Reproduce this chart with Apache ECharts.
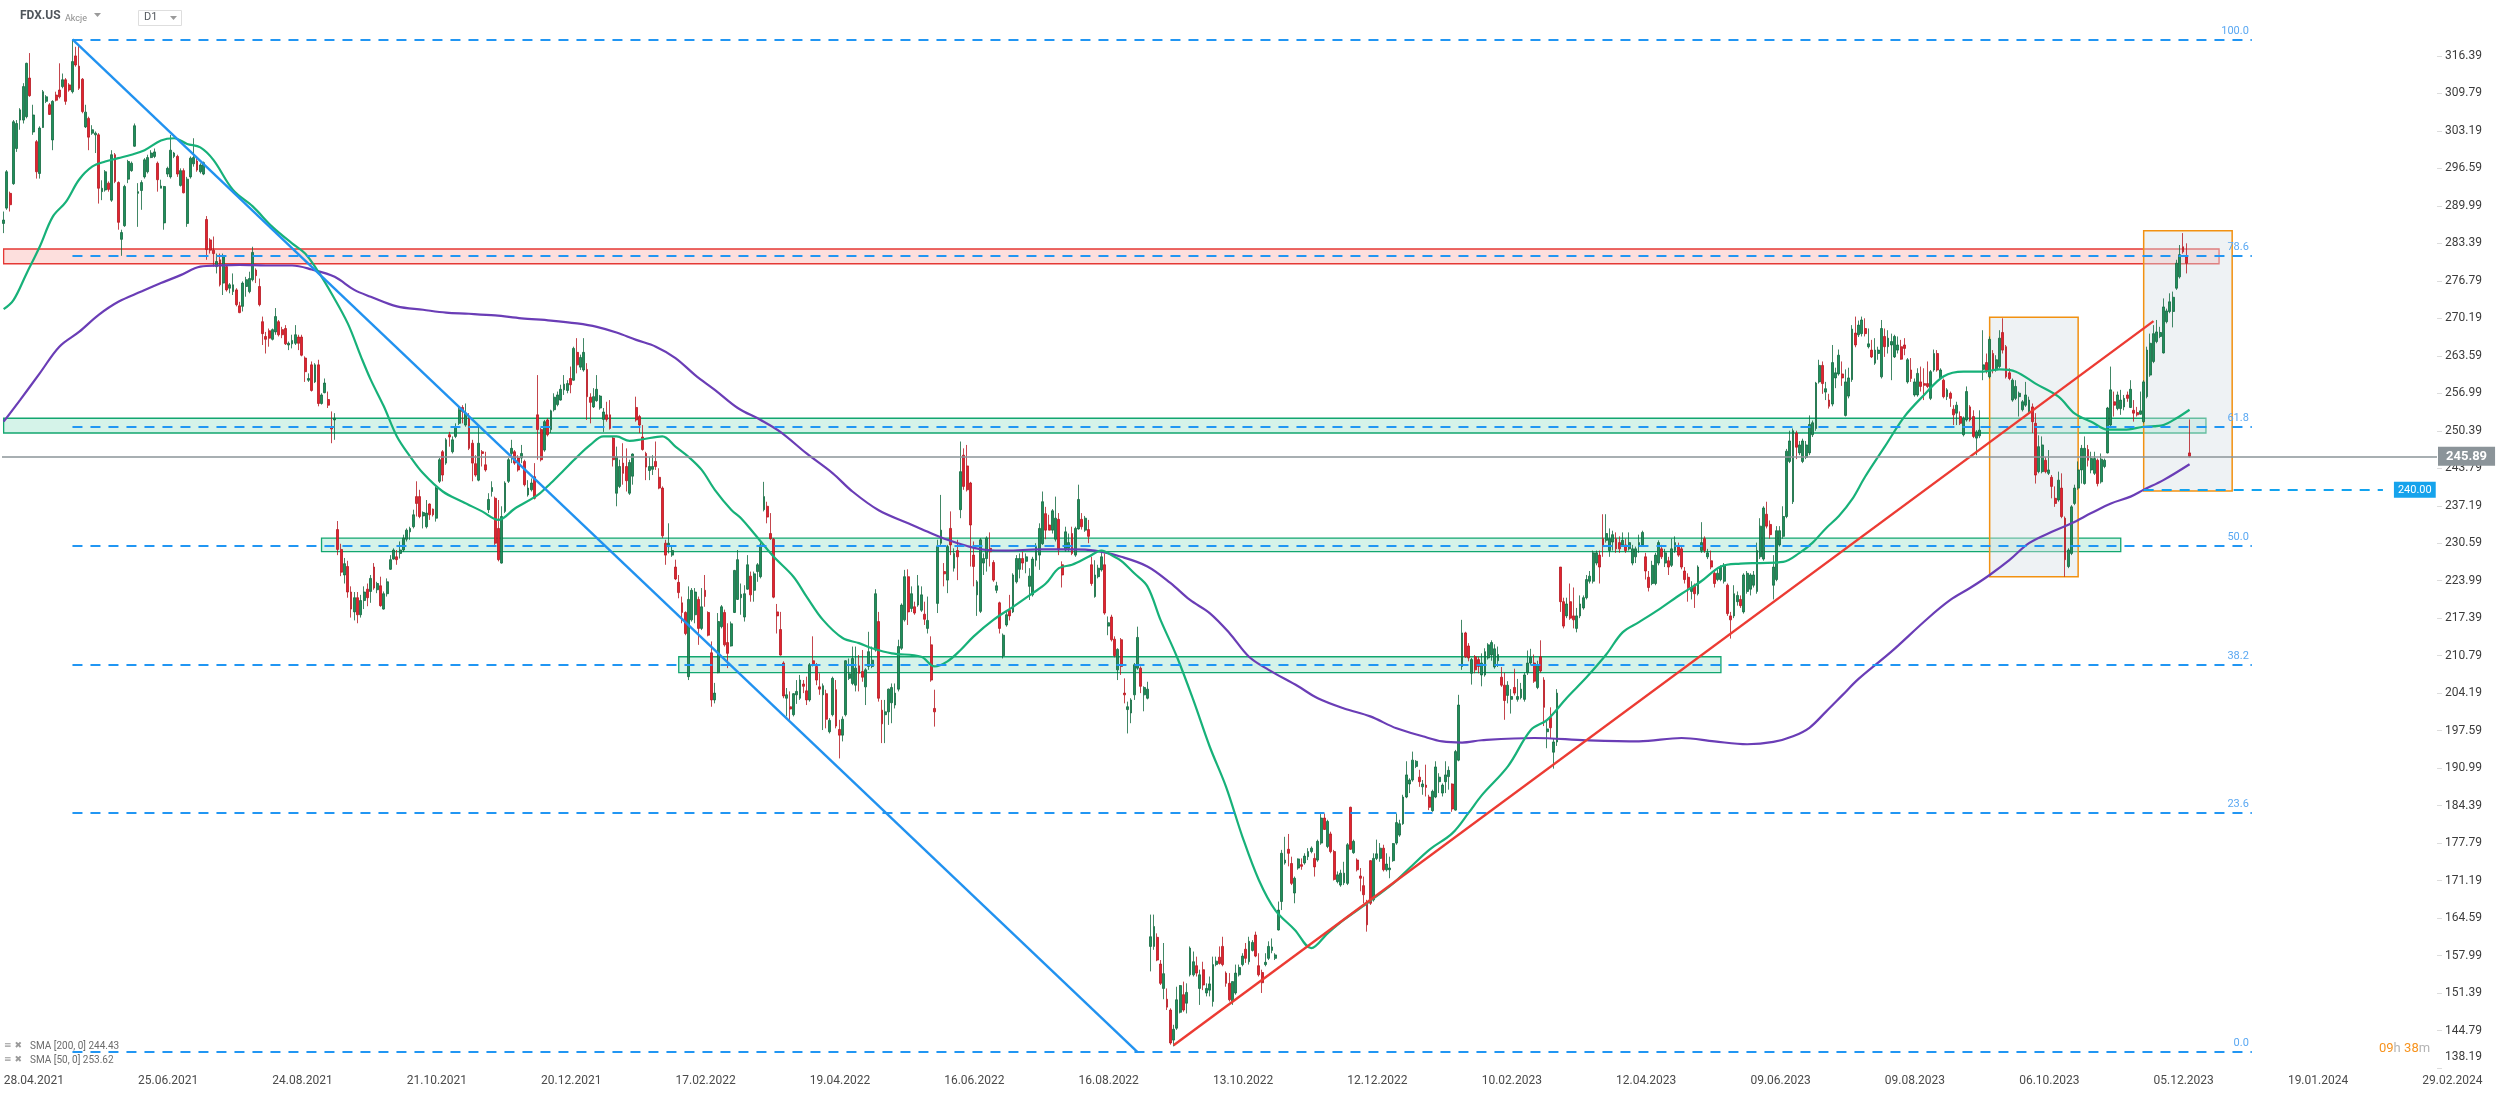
<!DOCTYPE html>
<html>
<head>
<meta charset="utf-8">
<title>FDX.US D1</title>
<script src="https://cdn.jsdelivr.net/npm/echarts@6/dist/echarts.min.js"></script>
<style>
  html, body { margin: 0; padding: 0; background: #fff; }
  #main { width: 2506px; height: 1093px; }
</style>
</head>
<body>
<div id="main"></div>
<script>
// x axis labels, one every 41 bars
var tickLabels = ['28.04.2021', '25.06.2021', '24.08.2021', '21.10.2021', '20.12.2021', '17.02.2022',
  '19.04.2022', '16.06.2022', '16.08.2022', '13.10.2022', '12.12.2022', '10.02.2023', '12.04.2023',
  '09.06.2023', '09.08.2023', '06.10.2023', '05.12.2023', '19.01.2024', '29.02.2024'];

// price scale labels on the right
var yTicks = [138.19, 144.79, 151.39, 157.99, 164.59, 171.19, 177.79, 184.39, 190.99, 197.59, 204.19,
  210.79, 217.39, 223.99, 230.59, 237.19, 243.79, 250.39, 256.99, 263.59, 270.19, 276.79, 283.39,
  289.99, 296.59, 303.19, 309.79, 316.39];

// daily bars: [open, close, low, high]
var ohlc = [
  [286.9,287.5,285.2,289.0],[289.6,296.0,289.3,296.3],[292.2,290.2,289.0,292.5],[293.9,304.8,293.7,305.1],[300.1,304.5,299.5,305.1],
  [305.1,306.9,303.4,307.2],[305.1,311.0,304.5,311.6],[305.7,315.1,305.4,315.2],[312.5,309.4,309.2,316.9],[303.0,306.0,302.5,307.8],
  [301.3,296.0,294.8,301.6],[295.7,303.7,294.8,304.0],[303.8,310.1,303.7,310.4],[308.4,309.2,308.1,309.5],[307.8,306.1,306.0,308.1],
  [301.6,308.4,299.8,308.6],[309.5,308.6,308.4,310.1],[310.4,309.2,308.9,315.1],[311.0,312.2,310.7,313.3],[312.2,308.4,307.8,312.5],
  [311.3,310.4,310.1,311.6],[310.1,315.4,309.8,319.3],[316.4,314.8,314.5,318.0],[314.6,310.7,310.4,318.3],[312.3,306.6,306.3,312.5],
  [303.9,306.5,303.7,307.8],[305.4,302.1,299.8,305.7],[302.8,303.4,302.5,304.2],[302.5,302.8,299.3,303.1],[302.5,293.1,290.4,302.8],
  [292.5,293.1,291.0,294.5],[292.8,296.0,292.5,296.3],[294.0,292.9,292.5,294.3],[291.0,299.0,290.7,299.8],[299.0,294.3,294.0,299.3],
  [294.1,287.1,285.8,294.3],[284.1,285.3,281.2,285.8],[286.5,293.4,286.3,293.7],[294.7,297.8,294.0,298.1],[296.2,297.5,296.0,297.8],
  [300.5,304.1,300.4,304.5],[292.2,292.5,286.3,294.0],[292.7,294.1,289.3,294.5],[295.1,298.1,294.8,298.4],[296.0,298.5,295.7,299.0],
  [298.5,299.3,298.4,299.8],[298.7,299.5,298.4,300.1],[297.5,294.6,292.5,297.8],[293.1,293.5,293.1,294.6],[287.0,293.4,285.8,293.5],
  [295.6,296.6,295.1,296.9],[295.1,299.8,294.8,302.5],[298.7,299.3,298.4,299.5],[298.7,295.6,295.1,299.0],[293.6,296.2,293.4,296.6],
  [296.2,292.3,292.2,296.6],[286.9,294.7,286.3,295.1],[295.1,298.4,294.8,298.7],[297.4,298.5,296.9,301.9],[297.9,296.3,296.0,298.4],
  [296.0,297.2,295.7,297.5],[295.6,297.6,295.4,297.8],[287.6,282.3,280.5,288.2],[284.0,282.2,281.6,284.3],[282.2,281.6,279.3,284.6],
  [279.3,280.2,278.1,281.6],[280.5,276.1,275.8,281.6],[276.4,281.1,274.3,281.6],[279.3,275.2,274.9,279.6],[275.5,276.1,274.6,276.4],
  [274.9,276.1,274.3,278.1],[275.2,272.6,272.3,275.5],[272.4,271.2,271.1,273.1],[272.3,276.4,271.4,276.7],[275.8,277.0,274.0,277.5],
  [274.9,277.2,274.6,278.4],[277.0,281.8,276.7,282.8],[278.7,277.7,276.4,279.0],[275.8,272.6,272.3,277.2],[269.6,267.5,265.5,270.5],
  [267.0,266.5,264.0,267.8],[268.0,266.7,265.2,268.4],[266.5,268.2,266.3,268.4],[267.8,270.5,267.3,272.0],[269.6,267.3,267.0,269.9],
  [268.2,267.3,266.7,268.7],[268.4,265.7,265.5,269.0],[265.5,265.8,264.6,266.1],[265.7,266.3,264.9,267.3],[265.8,267.3,265.5,269.0],
  [266.9,265.8,264.6,267.3],[266.9,263.7,263.5,267.3],[263.2,260.8,259.0,263.5],[259.3,259.6,259.0,260.5],[262.0,257.5,257.3,262.6],
  [259.0,262.0,258.8,262.3],[262.0,255.2,254.7,262.9],[255.2,256.7,255.0,257.0],[257.1,258.8,257.0,259.6],[255.9,254.9,254.4,257.3],
  [251.1,250.7,248.2,253.8],[252.3,252.6,248.8,253.5],[233.0,229.5,228.5,234.5],[229.5,225.5,224.8,230.5],[225.0,227.0,223.5,228.0],
  [226.5,222.0,221.0,227.5],[222.0,219.0,217.5,223.0],[218.5,221.0,217.0,222.0],[221.0,218.0,216.5,222.0],[218.0,220.5,217.5,221.5],
  [220.5,222.0,219.0,223.0],[222.5,221.0,219.5,223.5],[222.1,224.4,220.1,225.0],[226.4,222.7,222.4,227.1],[222.4,223.5,221.8,223.8],
  [223.1,219.6,219.4,224.7],[219.0,221.7,218.9,222.1],[221.7,223.8,221.2,224.4],[226.0,227.7,225.9,228.5],[227.8,229.4,227.7,229.7],
  [228.2,227.7,226.8,229.4],[228.8,229.4,227.9,230.9],[229.4,231.5,229.1,232.1],[231.3,232.9,230.9,233.2],[232.6,233.2,231.2,233.5],
  [233.5,235.6,233.2,236.5],[238.8,237.6,235.3,241.5],[238.8,235.3,235.0,240.0],[235.4,236.0,233.2,236.2],[233.5,235.9,233.2,238.2],
  [237.5,235.6,234.7,237.6],[236.6,235.6,235.3,236.7],[235.0,240.3,234.4,240.6],[241.5,245.3,241.2,245.6],[246.7,242.6,241.5,247.0],
  [244.7,248.8,244.4,249.1],[249.7,249.3,247.6,250.2],[246.7,248.8,246.4,249.4],[249.4,251.1,249.1,251.7],[251.7,254.1,251.4,254.7],
  [254.5,253.8,251.7,254.9],[251.4,253.5,251.1,255.2],[252.6,247.3,247.0,253.5],[248.2,244.7,241.5,248.8],[244.6,242.6,242.3,246.1],
  [241.7,248.2,241.5,251.1],[246.7,246.4,244.1,247.0],[244.4,243.5,243.2,246.7],[236.5,238.3,235.9,239.4],[239.7,240.4,238.8,241.5],
  [238.5,230.6,230.3,238.8],[233.2,227.7,227.4,238.2],[227.1,235.3,227.0,237.1],[236.2,241.2,235.9,241.5],[241.5,245.3,241.2,245.6],
  [246.4,247.3,244.7,248.8],[246.7,244.7,244.4,247.0],[245.6,243.5,243.2,246.1],[245.6,246.4,244.7,247.9],[245.0,240.9,240.6,245.3],
  [239.1,240.3,238.8,241.7],[240.0,241.2,239.7,242.0],[242.3,238.5,238.3,244.7],[253.2,250.6,245.3,260.2],[250.6,245.3,245.0,250.9],
  [247.0,252.0,246.7,252.3],[252.3,249.7,249.4,252.6],[250.6,253.9,250.0,254.1],[254.1,256.3,253.8,257.0],[255.0,256.7,254.7,257.3],
  [255.8,257.7,255.7,258.5],[257.6,258.6,256.7,260.2],[257.5,258.7,257.0,259.3],[259.6,258.5,257.0,261.7],[259.3,264.9,259.2,265.2],
  [264.2,262.0,260.5,266.7],[261.6,263.3,261.1,263.8],[261.1,264.2,260.8,266.7],[261.2,256.4,252.3,262.3],[256.3,255.4,251.7,257.0],
  [254.6,256.4,254.4,257.9],[255.7,257.7,255.5,260.2],[254.4,256.5,254.1,256.7],[252.4,253.7,250.2,254.4],[253.2,252.4,252.0,255.5],
  [253.2,250.8,250.6,255.8],[249.1,245.3,244.1,249.4],[239.4,245.8,237.1,247.6],[240.6,244.1,240.3,245.3],[244.7,242.9,240.9,248.2],
  [244.1,241.6,239.7,247.3],[239.4,244.8,239.1,245.3],[242.4,246.3,240.9,246.4],[254.5,252.3,252.0,256.4],[252.9,251.4,250.0,253.2],
  [249.3,247.1,246.9,251.4],[246.4,244.0,241.7,246.7],[243.4,244.1,241.7,245.8],[243.6,244.1,242.6,246.1],[245.0,244.1,243.5,248.5],
  [242.2,240.3,240.1,243.8],[240.3,231.9,231.5,240.6],[230.6,228.5,226.8,231.2],[230.0,230.6,228.8,234.1],[228.5,229.3,228.2,230.0],
  [226.4,224.3,224.1,227.7],[223.7,221.9,220.9,225.0],[220.1,218.4,216.5,221.2],[218.4,214.7,214.4,218.6],[207.1,220.7,206.5,223.0],
  [217.1,222.3,216.8,222.7],[218.0,222.0,216.5,222.7],[220.7,215.6,212.7,221.2],[215.6,219.4,215.3,222.7],[222.3,221.2,219.4,225.0],
  [218.4,214.4,214.2,218.6],[211.3,203.0,201.8,213.3],[203.0,204.2,202.4,206.0],[207.8,216.8,207.7,218.3],[215.9,219.4,215.6,219.7],
  [218.4,212.7,212.4,218.9],[213.1,211.2,208.6,216.5],[212.5,216.4,212.4,216.8],[218.4,225.8,218.3,225.9],[220.7,227.7,220.6,229.4],
  [221.0,221.6,218.0,223.5],[217.6,221.7,216.8,223.2],[222.5,226.8,222.4,228.5],[224.8,221.5,220.3,225.6],[222.3,225.2,220.3,225.6],
  [225.6,226.8,223.8,227.1],[224.7,230.3,224.4,230.9],[236.5,238.8,236.2,241.4],[237.1,235.2,234.1,237.9],[232.3,231.4,231.2,235.9],
  [231.3,221.1,220.9,231.5],[218.5,217.8,214.7,219.9],[215.4,210.9,210.8,218.5],[209.5,203.7,203.3,209.8],[203.3,203.9,200.1,205.1],
  [201.8,201.4,199.5,204.5],[200.4,204.1,200.1,204.2],[203.9,204.5,202.3,206.5],[203.3,206.5,203.0,207.4],[205.8,205.4,204.2,206.5],
  [204.6,203.0,202.1,207.1],[203.0,209.2,202.7,209.5],[209.9,209.2,208.9,214.2],[208.9,206.5,205.6,209.5],[205.3,204.9,203.9,207.7],
  [203.9,205.5,197.7,205.9],[204.1,199.6,198.0,204.8],[197.4,199.4,197.1,199.8],[200.4,206.8,200.1,207.1],[204.8,198.4,198.0,206.5],
  [197.8,196.8,192.7,199.5],[196.8,199.6,195.7,200.1],[200.4,209.9,200.1,210.0],[206.8,207.6,206.5,210.3],[205.9,210.3,205.6,212.4],
  [205.6,208.6,204.5,212.4],[209.0,207.7,204.5,210.9],[208.0,207.0,206.2,211.8],[205.3,208.3,202.1,208.6],[208.9,211.5,208.3,215.0],
  [208.9,210.0,208.6,212.4],[211.8,221.7,211.5,222.5],[216.8,203.3,202.7,218.5],[201.2,198.8,195.4,203.0],[200.4,200.9,195.4,203.0],
  [200.9,204.9,198.6,205.0],[202.5,205.2,198.9,205.9],[202.1,204.2,201.5,205.9],[204.9,212.4,204.5,213.6],[212.1,219.7,211.8,220.0],
  [217.1,224.7,216.8,225.9],[224.7,218.5,216.2,226.0],[219.1,221.7,218.5,223.0],[219.4,218.3,218.0,220.3],[219.7,223.1,219.4,225.0],
  [218.8,221.5,218.5,223.0],[218.1,217.2,216.2,220.3],[215.6,217.0,214.7,221.2],[212.7,206.5,206.2,214.2],[201.5,200.9,198.3,204.8],
  [220.0,230.0,218.3,231.2],[230.6,232.9,230.3,239.1],[225.6,225.2,223.0,227.1],[224.1,230.0,221.8,230.3],[233.2,230.3,228.5,236.2],
  [226.2,228.8,225.6,229.7],[229.3,228.2,224.1,231.2],[236.5,243.2,235.0,248.5],[246.1,240.6,240.0,247.3],[244.2,240.0,239.7,247.9],
  [241.2,233.8,226.5,241.4],[228.5,226.5,223.0,230.9],[221.5,223.8,217.8,224.1],[218.6,231.2,218.3,231.5],[227.1,227.9,225.0,228.8],
  [227.9,231.5,225.6,231.8],[229.7,229.1,226.5,232.5],[227.2,224.1,223.8,227.6],[222.3,223.1,221.8,223.8],[220.1,215.6,214.7,220.3],
  [210.8,214.4,210.3,214.7],[216.2,218.0,215.9,218.8],[218.8,217.8,217.0,221.5],[218.5,225.0,218.3,225.3],[223.8,227.9,223.5,228.5],
  [226.0,227.9,224.4,228.8],[227.9,227.1,225.9,229.1],[227.4,228.2,225.3,228.8],[223.0,224.8,220.6,226.2],[221.5,227.8,221.2,228.2],
  [227.6,230.0,226.5,230.6],[228.5,233.2,225.9,234.1],[230.5,237.9,230.3,239.7],[235.8,232.9,231.3,237.0],[233.8,232.9,232.9,235.6],
  [232.9,236.3,232.3,236.6],[231.3,235.0,230.9,238.8],[234.8,229.4,228.5,235.9],[226.8,225.0,222.8,227.4],[229.4,232.6,229.1,233.5],
  [229.7,230.7,229.1,232.3],[232.3,228.8,228.5,233.5],[228.5,233.2,228.2,233.5],[233.1,238.3,233.0,240.9],[234.8,233.5,233.0,235.9],
  [232.9,235.0,232.6,235.4],[233.0,231.8,230.6,234.7],[226.8,223.5,223.1,228.2],[221.2,225.0,221.0,227.6],[224.7,226.2,224.4,226.8],
  [225.9,228.2,225.6,229.1],[226.8,218.3,218.0,228.8],[216.0,216.6,214.4,217.7],[217.6,213.6,213.3,218.0],[213.7,210.8,210.5,214.2],
  [208.3,211.9,206.5,212.1],[213.6,208.9,207.4,213.9],[204.2,203.9,202.4,206.8],[201.3,201.8,197.1,202.7],[200.7,203.0,198.9,203.3],
  [203.9,209.2,203.0,209.5],[208.6,214.0,208.3,215.9],[208.6,205.4,204.2,208.9],[203.9,205.2,201.0,205.4],[203.3,204.9,203.1,206.2],
  [159.6,161.3,155.2,165.2],[159.6,163.1,159.0,165.2],[161.2,157.2,157.0,161.9],[156.5,153.1,152.8,157.2],[152.2,154.8,150.3,160.2],
  [150.3,148.9,148.4,152.2],[148.4,142.6,142.3,148.7],[143.1,145.0,142.0,145.8],[145.2,150.2,144.9,152.5],[148.0,152.7,147.8,152.8],
  [151.1,148.4,148.1,153.4],[149.6,151.5,147.8,153.1],[154.6,159.3,154.3,159.6],[154.6,156.9,154.3,158.7],[156.2,154.9,154.3,157.8],
  [152.2,154.6,149.3,155.5],[155.5,152.8,151.9,156.9],[151.4,152.2,150.8,153.1],[151.9,153.0,150.8,154.3],[149.9,156.4,149.0,157.8],
  [156.4,157.0,156.1,157.8],[157.7,156.6,156.4,159.6],[159.6,156.4,156.1,161.3],[154.9,153.1,152.5,155.2],[153.1,150.2,149.9,154.9],
  [149.9,153.4,149.3,153.4],[151.4,154.9,151.1,156.4],[154.6,155.9,154.3,156.4],[156.4,157.9,156.1,158.4],[159.1,157.5,156.7,160.2],
  [156.9,160.5,156.4,161.3],[158.9,160.3,158.7,160.7],[161.6,157.9,157.7,162.2],[156.2,154.6,154.3,158.4],[155.0,153.2,151.4,155.5],
  [156.4,156.8,156.1,158.4],[157.5,159.6,157.2,160.5],[158.9,159.5,158.4,161.0],[157.5,158.1,157.2,158.4],[162.5,166.0,162.4,167.5],
  [167.5,176.0,166.0,176.6],[174.3,174.8,174.0,178.9],[176.7,176.0,173.7,179.4],[174.2,170.7,170.4,175.4],[169.0,171.6,167.2,171.9],
  [173.4,175.0,173.1,175.1],[174.0,173.7,173.1,175.1],[174.3,175.5,174.0,176.0],[175.4,176.3,174.8,176.9],[176.3,176.9,176.0,177.2],
  [175.1,173.6,171.9,176.0],[174.8,178.1,174.5,178.4],[177.8,182.2,177.5,183.0],[182.2,180.2,180.1,183.0],[177.2,181.6,176.9,181.9],
  [179.4,176.3,176.0,179.8],[176.3,171.4,171.2,176.6],[171.0,172.2,170.7,172.8],[170.4,172.5,170.1,173.1],[170.8,172.5,170.4,174.5],
  [170.7,177.5,170.4,177.8],[184.1,176.7,176.6,184.2],[176.1,178.1,175.9,178.4],[174.8,173.1,172.8,175.1],[172.0,171.6,169.3,173.4],
  [170.3,168.7,167.2,171.9],[167.3,163.4,162.2,167.8],[174.7,167.2,166.9,174.8],[167.8,175.1,167.5,176.0],[175.1,175.9,174.8,178.4],
  [175.1,176.9,174.5,177.8],[176.9,173.1,172.8,177.5],[173.1,174.1,172.8,176.0],[173.1,173.4,171.6,175.4],[174.7,177.7,174.5,177.8],
  [177.8,181.4,177.5,183.0],[179.2,181.2,178.9,181.9],[181.2,185.9,181.0,186.3],[185.9,189.8,185.7,192.2],[188.2,188.9,186.6,189.2],
  [188.9,192.4,188.6,193.9],[191.3,192.2,191.0,192.4],[189.4,188.6,187.7,190.7],[187.7,188.2,186.3,188.9],[188.0,187.6,186.0,191.6],
  [185.9,184.1,183.6,186.3],[183.5,186.9,183.3,187.2],[185.9,191.2,185.7,192.2],[188.6,189.4,186.6,190.1],[186.6,188.0,186.0,188.3],
  [188.6,189.8,186.6,192.2],[189.5,190.6,187.2,191.3],[188.2,183.8,183.3,188.3],[183.6,193.9,183.5,194.2],[192.4,202.1,192.2,203.9],
  [208.9,214.8,208.3,217.1],[214.8,210.6,210.4,215.0],[212.5,210.4,209.8,213.0],[207.7,210.1,205.7,210.4],[210.6,208.3,207.7,210.9],
  [210.1,208.9,207.7,210.6],[207.4,209.5,205.4,211.2],[207.4,211.5,207.1,212.1],[210.4,212.7,210.1,213.0],[210.9,213.1,209.9,213.5],
  [208.8,212.0,208.5,212.8],[209.9,211.0,208.8,212.4],[207.0,205.6,205.3,208.8],[205.6,202.9,199.5,207.8],[203.8,205.6,202.4,206.3],
  [203.1,203.6,200.6,204.9],[205.2,204.2,203.8,208.5],[203.1,203.6,202.7,206.7],[203.4,204.9,203.1,206.0],[203.1,207.4,202.7,207.8],
  [207.8,209.5,207.4,211.7],[209.5,210.5,209.2,212.0],[209.5,206.3,206.0,211.0],[205.2,209.2,204.9,209.9],[210.6,208.1,207.8,213.5],
  [206.5,201.7,198.4,207.0],[197.4,197.9,194.5,199.5],[199.9,198.1,196.3,201.7],[193.8,195.6,190.9,196.3],[195.6,204.2,194.9,204.9],
  [226.4,220.3,218.5,226.4],[220.3,216.0,215.6,221.0],[217.8,219.9,217.4,221.0],[220.3,217.4,217.1,223.5],[217.8,217.1,215.6,222.8],
  [215.6,217.8,214.9,219.2],[217.8,219.9,217.4,221.4],[219.2,221.0,218.9,221.4],[221.0,224.2,220.7,225.0],[223.9,224.8,223.5,225.7],
  [223.9,228.9,223.5,229.3],[227.1,228.9,226.7,229.3],[228.5,226.4,223.5,229.3],[231.4,230.0,228.2,235.7],[231.1,232.3,230.7,235.7],
  [229.3,231.4,228.2,233.2],[230.8,232.1,229.3,232.8],[231.4,229.6,228.9,232.5],[230.7,229.6,228.9,231.8],[230.3,231.1,230.0,232.5],
  [230.3,229.3,228.9,231.4],[229.6,230.7,229.3,232.5],[227.1,229.6,226.7,230.3],[228.2,229.6,227.1,230.0],[230.0,230.7,228.9,232.1],
  [230.3,232.5,230.0,232.8],[228.2,225.7,224.2,228.9],[224.6,222.8,222.1,225.7],[223.5,226.7,223.2,227.5],[223.5,228.5,223.2,228.9],
  [227.1,230.7,226.7,231.1],[229.6,228.2,227.8,230.3],[227.1,228.9,226.4,229.6],[227.5,226.4,225.0,228.2],[226.7,229.6,226.4,231.4],
  [229.3,230.7,228.9,231.8],[230.0,228.5,228.2,230.7],[229.6,226.4,226.0,230.0],[225.7,224.2,223.5,226.4],[224.6,222.8,220.3,225.3],
  [222.1,222.8,220.7,223.9],[223.2,221.7,219.2,223.5],[221.7,226.4,221.4,226.7],[229.3,230.7,228.9,234.3],[231.4,229.3,228.9,231.8],
  [228.2,228.9,227.8,229.6],[227.5,226.4,226.0,229.3],[225.3,223.5,222.8,225.7],[224.2,225.3,223.9,226.0],[224.2,226.4,223.9,226.7],
  [223.9,226.7,223.5,227.1],[223.2,218.2,217.8,223.5],[217.8,217.1,213.8,218.5],[217.8,221.7,217.4,223.2],[220.3,221.4,219.6,222.1],
  [220.7,219.6,219.2,221.4],[218.5,225.0,218.2,225.3],[222.1,225.3,221.7,225.7],[222.5,225.0,221.4,225.3],[223.2,225.0,222.8,225.7],
  [222.1,229.3,221.7,230.7],[228.2,233.6,227.8,235.0],[227.8,236.8,227.5,237.1],[235.7,233.6,233.2,237.9],[233.9,232.1,231.4,234.6],
  [223.2,226.4,220.7,228.5],[224.2,232.8,223.9,233.6],[230.3,232.8,230.0,233.6],[231.8,235.3,231.4,237.1],[235.3,246.8,235.0,247.2],
  [245.0,248.6,244.7,250.4],[237.9,250.4,237.5,250.8],[250.0,247.5,245.4,250.4],[246.5,247.9,246.1,248.6],[245.0,248.6,244.7,249.0],
  [245.7,247.9,245.4,248.6],[246.5,251.5,246.1,253.1],[249.7,251.8,249.3,252.2],[250.8,258.8,250.4,259.0],[259.0,261.9,258.7,262.9],
  [261.9,258.7,256.9,262.6],[257.2,257.8,255.8,259.0],[255.8,254.7,254.3,256.9],[255.1,262.4,254.7,265.5],[259.7,260.6,257.9,261.5],
  [260.4,263.7,260.1,264.7],[260.4,259.7,258.3,262.6],[253.1,259.0,252.9,261.2],[256.5,259.7,256.1,261.5],[259.4,268.3,259.0,269.0],
  [267.6,265.5,265.1,270.5],[267.3,269.0,266.9,269.8],[267.5,269.9,267.0,270.5],[268.4,267.5,267.0,270.2],[265.2,265.7,264.9,268.4],
  [264.6,263.4,263.2,266.4],[262.3,264.6,262.0,266.7],[264.0,264.6,262.9,265.2],[259.9,268.4,259.6,269.9],[267.0,265.2,263.4,268.4],
  [265.2,266.7,264.0,268.1],[265.5,266.1,259.3,267.5],[263.4,267.0,263.2,267.3],[264.6,265.5,264.0,267.0],[265.2,263.0,262.9,266.4],
  [265.5,264.9,263.7,266.7],[259.0,262.9,258.7,263.2],[261.1,259.6,259.0,263.2],[256.7,259.0,256.4,259.6],[256.7,260.5,256.4,261.4],
  [259.0,258.2,257.3,261.7],[258.7,258.4,255.8,261.4],[258.7,258.2,257.9,262.6],[256.1,260.8,255.8,261.1],[261.1,264.0,260.8,264.7],
  [264.0,261.1,260.8,264.6],[259.6,261.1,259.5,261.4],[259.3,256.4,256.1,259.6],[256.4,257.6,255.8,257.9],[257.0,256.1,254.6,257.3],
  [254.2,253.2,251.4,254.9],[253.5,254.9,251.4,255.5],[252.9,251.7,251.4,253.8],[249.7,252.6,249.4,252.9],[252.3,257.3,252.0,258.2],
  [254.6,252.3,252.0,254.9],[252.9,249.4,249.1,254.0],[249.1,250.2,246.1,250.5],[249.5,250.5,249.1,254.0],[261.2,262.0,259.3,268.1],
  [262.4,261.0,260.5,264.0],[259.9,266.5,259.6,267.0],[264.0,261.1,260.5,264.6],[261.1,262.9,260.8,263.7],[261.7,266.7,261.4,268.1],
  [267.7,264.6,264.0,270.2],[265.2,259.9,259.6,265.5],[260.6,259.6,259.3,261.4],[255.8,259.3,255.5,259.6],[256.1,258.2,255.8,259.3],
  [256.4,257.0,252.9,257.3],[254.1,255.5,253.8,255.8],[254.9,256.7,254.6,259.0],[253.8,255.8,253.5,256.4],[254.6,252.0,250.0,255.2],
  [251.7,242.6,241.1,253.5],[243.2,247.6,242.9,249.6],[243.2,247.9,242.9,249.4],[245.2,243.2,242.9,245.8],[242.9,243.5,242.6,247.0],
  [242.2,240.6,238.5,242.6],[238.5,237.6,237.0,240.6],[238.2,241.7,237.9,243.2],[240.3,235.3,235.0,242.9],[235.0,227.7,224.7,235.3],
  [226.5,229.4,226.2,229.7],[228.8,237.0,228.5,237.3],[237.6,240.3,237.3,240.9],[240.3,243.5,240.0,245.0],[243.5,247.3,241.1,247.9],
  [241.1,247.3,240.9,249.4],[247.1,245.2,244.1,247.9],[243.5,245.5,242.9,246.7],[242.9,245.5,242.6,246.7],[245.2,241.1,240.6,245.5],
  [241.4,245.4,241.1,246.4],[244.1,245.2,243.8,245.5],[246.5,254.4,246.4,254.6],[251.4,257.6,251.1,261.7],[255.5,254.9,252.9,257.3],
  [254.3,256.7,254.0,257.3],[254.3,255.8,253.2,257.6],[254.6,256.1,254.0,256.7],[256.7,256.1,255.5,257.3],[254.5,257.7,254.4,259.3],
  [254.0,253.5,252.0,255.8],[253.6,253.2,252.9,254.6],[253.3,253.9,253.2,257.3],[252.0,259.0,251.7,259.3],[256.4,264.6,256.1,265.2],
  [260.2,265.8,259.9,267.5],[262.6,267.5,262.3,269.0],[266.1,267.8,265.8,269.9],[267.0,267.7,266.7,268.7],[264.1,272.2,264.0,273.7],
  [269.6,271.5,269.3,271.9],[271.4,273.1,271.1,274.6],[271.4,273.9,268.6,274.9],[275.5,279.9,275.2,280.5],[277.5,281.4,277.2,283.1],
  [282.8,281.9,281.6,285.2],[281.0,279.9,278.1,283.4],[246.5,245.89,245.7,252.4]
];

// moving averages: [bar index, value]
var sma50 = [[0,271.8],[3,273.4],[7,278.1],[11,282.8],[15,288.1],[19,290.7],[23,294.6],[27,296.9],[31,297.8],[35,298.4],
  [39,299.0],[43,299.8],[48,301.5],[52,301.9],[56,300.9],[60,300.3],[64,298.1],[70,292.8],[76,289.9],[82,286.3],[88,283.4],
  [92,281.6],[96,278.4],[100,274.6],[105,269.3],[109,263.5],[112,259.4],[116,254.7],[120,249.4],[124,245.9],[128,242.9],
  [134,239.7],[140,237.9],[146,236.2],[151,234.7],[156,236.7],[163,239.1],[167,241.2],[171,243.5],[175,245.8],[179,247.9],
  [183,249.4],[187,249.4],[191,248.6],[195,248.9],[201,249.4],[205,247.6],[209,245.8],[213,243.5],[217,240.0],[222,236.5],
  [225,235.0],[229,232.3],[235,228.2],[241,224.7],[245,221.2],[250,217.1],[256,213.9],[261,213.0],[265,212.1],[271,211.2],
  [280,210.6],[284,208.9],[288,209.8],[292,211.8],[296,214.2],[302,217.1],[308,219.4],[314,221.8],[318,223.5],[322,226.2],
  [326,226.8],[331,228.2],[335,229.3],[338,228.5],[341,227.5],[345,225.3],[349,223.0],[353,217.1],[358,210.6],[363,203.0],
  [368,194.8],[373,187.7],[378,178.9],[383,171.3],[388,166.0],[394,162.5],[399,159.3],[404,161.9],[409,164.3],[416,167.2],
  [424,170.7],[429,173.4],[435,176.6],[442,179.5],[447,183.1],[451,186.2],[459,191.3],[466,197.7],[471,199.5],[477,203.4],
  [483,207.0],[489,211.0],[494,214.9],[499,216.7],[505,218.9],[512,221.7],[518,223.9],[524,226.5],[530,227.0],[536,227.1],
  [543,227.3],[548,228.9],[552,230.7],[556,233.2],[560,235.4],[564,238.3],[568,242.3],[574,247.6],[580,252.9],[586,256.7],
  [592,260.0],[598,260.8],[604,260.8],[609,261.2],[614,260.8],[620,258.7],[627,256.4],[632,253.4],[637,252.0],[642,250.6],
  [647,250.6],[653,251.1],[659,251.4],[663,252.6],[667,254.1]];

var sma200 = [[0,252.0],[5,255.8],[11,260.5],[17,265.2],[23,267.8],[29,270.8],[35,273.1],[42,274.9],[48,276.4],[54,277.8],
  [60,279.3],[66,279.5],[72,279.6],[80,279.5],[88,279.5],[94,278.8],[101,277.5],[107,275.2],[112,274.0],[120,272.3],
  [128,271.7],[135,271.2],[142,271.0],[150,270.7],[158,270.2],[167,269.8],[175,269.3],[181,268.7],[187,267.7],[193,266.4],
  [199,265.2],[205,263.2],[211,260.2],[217,257.6],[224,254.4],[231,252.3],[237,250.2],[245,246.4],[253,242.9],[259,239.7],
  [267,236.4],[276,234.1],[282,232.6],[288,231.2],[294,230.1],[300,229.4],[306,229.3],[316,229.5],[326,229.5],[333,229.3],
  [341,228.2],[349,226.5],[356,223.6],[362,220.6],[368,218.3],[374,214.8],[380,210.6],[386,208.3],[395,205.4],[401,203.3],
  [409,201.5],[417,200.1],[425,198.0],[433,196.6],[439,195.7],[445,195.5],[451,195.9],[467,196.3],[483,195.9],[499,195.7],
  [512,196.3],[522,195.7],[532,195.2],[540,195.6],[546,196.6],[551,198.1],[556,200.9],[561,203.8],[566,206.7],[576,211.5],
  [587,217.3],[594,220.6],[600,222.7],[606,225.0],[612,227.6],[618,230.6],[625,232.6],[631,234.1],[637,235.9],[643,237.6],
  [649,238.8],[653,240.0],[659,241.7],[667,244.5]];

// drawing tools on the chart
var fibHigh = 319.3, fibLow = 141.0;
var fibLevels = [100, 78.6, 61.8, 50, 38.2, 23.6, 0];
var lastPrice = 245.89;
var stopLevel = 240.00;
var smaLast = { sma200: '244.43', sma50: '253.62' };

var barCount = 743;
var categories = [];
for (var i = 0; i < barCount; i++) categories.push(String(i));

var candles = ohlc.map(function (d) {
  return [d[0], d[1], Math.min(d[2], d[0], d[1]), Math.max(d[3], d[0], d[1])];
});

function fibPrice(level) {
  return fibLow + (fibHigh - fibLow) * level / 100;
}

var fibLines = fibLevels.map(function (lv) {
  var p = fibPrice(lv);
  return [{ coord: [21, p], label: { formatter: lv.toFixed(1) } }, { coord: [686, p] }];
});

var chart = echarts.init(document.getElementById('main'));

chart.setOption({
  animation: false,
  backgroundColor: '#ffffff',
  textStyle: { fontFamily: 'Roboto, sans-serif' },
  grid: { left: 2, right: 69, top: 19, bottom: 25 },
  xAxis: {
    type: 'category',
    data: categories,
    boundaryGap: true,
    axisLine: { show: false },
    axisTick: { show: false },
    splitLine: { show: false },
    axisLabel: {
      interval: 40,
      align: 'left',
      margin: 7,
      fontSize: 12,
      color: '#4a4a4a',
      formatter: function (v) {
        var k = (+v) / 41;
        return tickLabels[k] || '';
      }
    }
  },
  yAxis: {
    type: 'value',
    position: 'right',
    min: 138.19,
    max: 322.9,
    scale: true,
    axisLine: { show: false },
    splitLine: { show: false },
    axisTick: { show: true, length: 5, lineStyle: { color: '#dcdcdc' }, customValues: yTicks },
    axisLabel: {
      customValues: yTicks,
      margin: 8,
      fontSize: 12,
      color: '#3c3c3c',
      formatter: function (v) {
        var s = v.toFixed(2);
        return v < 140 ? '{low|' + s + '}' : s;
      },
      rich: { low: { fontSize: 12, color: '#3c3c3c', padding: [0, 0, 22, 0] } }
    }
  },
  series: [
    {
      name: 'FDX.US',
      type: 'candlestick',
      data: candles,
      large: false,
      barWidth: '72%',
      z: 2,
      itemStyle: {
        color: '#1f8f5c',
        color0: '#e2232e',
        borderColor: '#11683f',
        borderColor0: '#b5161f',
        borderWidth: 0.8
      }
    },
    {
      name: 'SMA 200',
      type: 'line',
      data: sma200,
      smooth: 0.35,
      showSymbol: false,
      z: 3,
      lineStyle: { color: '#6a3db6', width: 2.2 }
    },
    {
      name: 'SMA 50',
      type: 'line',
      data: sma50,
      smooth: 0.35,
      showSymbol: false,
      z: 3,
      lineStyle: { color: '#17b179', width: 2.2 }
    },
    {
      name: 'fibo',
      type: 'line',
      data: [],
      z: 4,
      markLine: {
        silent: true,
        symbol: ['none', 'none'],
        animation: false,
        lineStyle: { color: '#2196f3', type: [10, 8], width: 2 },
        label: { show: true, position: 'insideEndTop', color: '#5aa8f2', fontSize: 11, distance: 3 },
        data: fibLines
      }
    },
    {
      name: 'trend',
      type: 'line',
      data: [],
      z: 4,
      markLine: {
        silent: true,
        symbol: ['none', 'none'],
        animation: false,
        label: { show: false },
        data: [
          [{ coord: [21, fibHigh], lineStyle: { color: '#2192f0', width: 2.4, type: 'solid' } }, { coord: [346, fibLow] }],
          [{ coord: [357, 142.2], lineStyle: { color: '#ec3b33', width: 2.4, type: 'solid' } }, { coord: [656, 269.7] }]
        ]
      }
    },
    {
      name: 'zones',
      type: 'line',
      data: [],
      z: 5,
      markArea: {
        silent: true,
        animation: false,
        data: [
          [{ coord: [0, 282.4], itemStyle: { color: 'rgba(244,67,54,0.17)', borderColor: '#e53935', borderWidth: 1.3 } }, { coord: [676, 279.8] }],
          [{ coord: [0, 252.6], itemStyle: { color: 'rgba(30,190,140,0.19)', borderColor: '#12a66f', borderWidth: 1.3 } }, { coord: [672, 250.0] }],
          [{ coord: [97, 231.5], itemStyle: { color: 'rgba(30,190,140,0.19)', borderColor: '#12a66f', borderWidth: 1.3 } }, { coord: [646, 229.1] }],
          [{ coord: [206, 210.6], itemStyle: { color: 'rgba(30,190,140,0.19)', borderColor: '#12a66f', borderWidth: 1.3 } }, { coord: [524, 207.8] }],
          [{ coord: [606, 270.4], itemStyle: { color: 'rgba(214,224,228,0.42)', borderColor: '#f29111', borderWidth: 1.5 } }, { coord: [633, 224.7] }],
          [{ coord: [653, 285.6], itemStyle: { color: 'rgba(214,224,228,0.42)', borderColor: '#f29111', borderWidth: 1.5 } }, { coord: [680, 239.8] }]
        ]
      }
    },
    {
      name: 'levels',
      type: 'line',
      data: [],
      z: 6,
      markLine: {
        silent: true,
        symbol: ['none', 'none'],
        animation: false,
        data: [
          {
            yAxis: lastPrice,
            lineStyle: { color: '#8b9499', width: 1.5, type: 'solid' },
            label: {
              show: true, position: 'end', distance: 1, formatter: lastPrice.toFixed(2),
              backgroundColor: '#8b9499', color: '#ffffff', fontSize: 13, fontWeight: 'bold', padding: [3, 8, 3, 8]
            }
          },
          [
            {
              coord: [653, stopLevel],
              lineStyle: { color: '#12a3ef', width: 2, type: [10, 8] },
              label: {
                show: true, position: 'end', distance: 11, formatter: stopLevel.toFixed(2),
                backgroundColor: '#16a3ec', color: '#ffffff', fontSize: 11, padding: [3, 4, 2, 4]
              }
            },
            { coord: [726, stopLevel] }
          ]
        ]
      }
    }
  ],
  graphic: [
    { type: 'text', left: 20, top: 10, style: { text: 'FDX.US', font: 'bold 12px Roboto', fill: '#50565c' } },
    { type: 'text', left: 65, top: 14, style: { text: 'Akcje', font: '9px Roboto', fill: '#8a8a8a' } },
    { type: 'polygon', shape: { points: [[94, 13], [101, 13], [97.5, 17]] }, style: { fill: '#9a9a9a' } },
    { type: 'rect', shape: { x: 138.5, y: 10.5, width: 43, height: 15 }, style: { fill: '#ffffff', stroke: '#dedede', lineWidth: 1 } },
    { type: 'text', left: 144, top: 12, style: { text: 'D1', font: '11px Roboto', fill: '#555a60' } },
    { type: 'polygon', shape: { points: [[170, 16], [177, 16], [173.5, 20]] }, style: { fill: '#9a9a9a' } },
    { type: 'text', left: 4, top: 1041, style: { text: '≡ ✖', font: '9px DejaVu Sans', fill: '#9a9a9a' } },
    { type: 'text', left: 30, top: 1041, style: { text: 'SMA [200, 0] ' + smaLast.sma200, font: '10px Roboto', fill: '#6b6b6b' } },
    { type: 'text', left: 4, top: 1055, style: { text: '≡ ✖', font: '9px DejaVu Sans', fill: '#9a9a9a' } },
    { type: 'text', left: 30, top: 1055, style: { text: 'SMA [50, 0] ' + smaLast.sma50, font: '10px Roboto', fill: '#6b6b6b' } },
    {
      type: 'text', left: 2379, top: 1042,
      style: {
        text: '{o|09}{g|h} {o|38}{g|m}',
        rich: {
          o: { font: '13px Roboto', fill: '#f7931e' },
          g: { font: '13px Roboto', fill: '#b4b4b4' }
        }
      }
    }
  ]
});
</script>
</body>
</html>
